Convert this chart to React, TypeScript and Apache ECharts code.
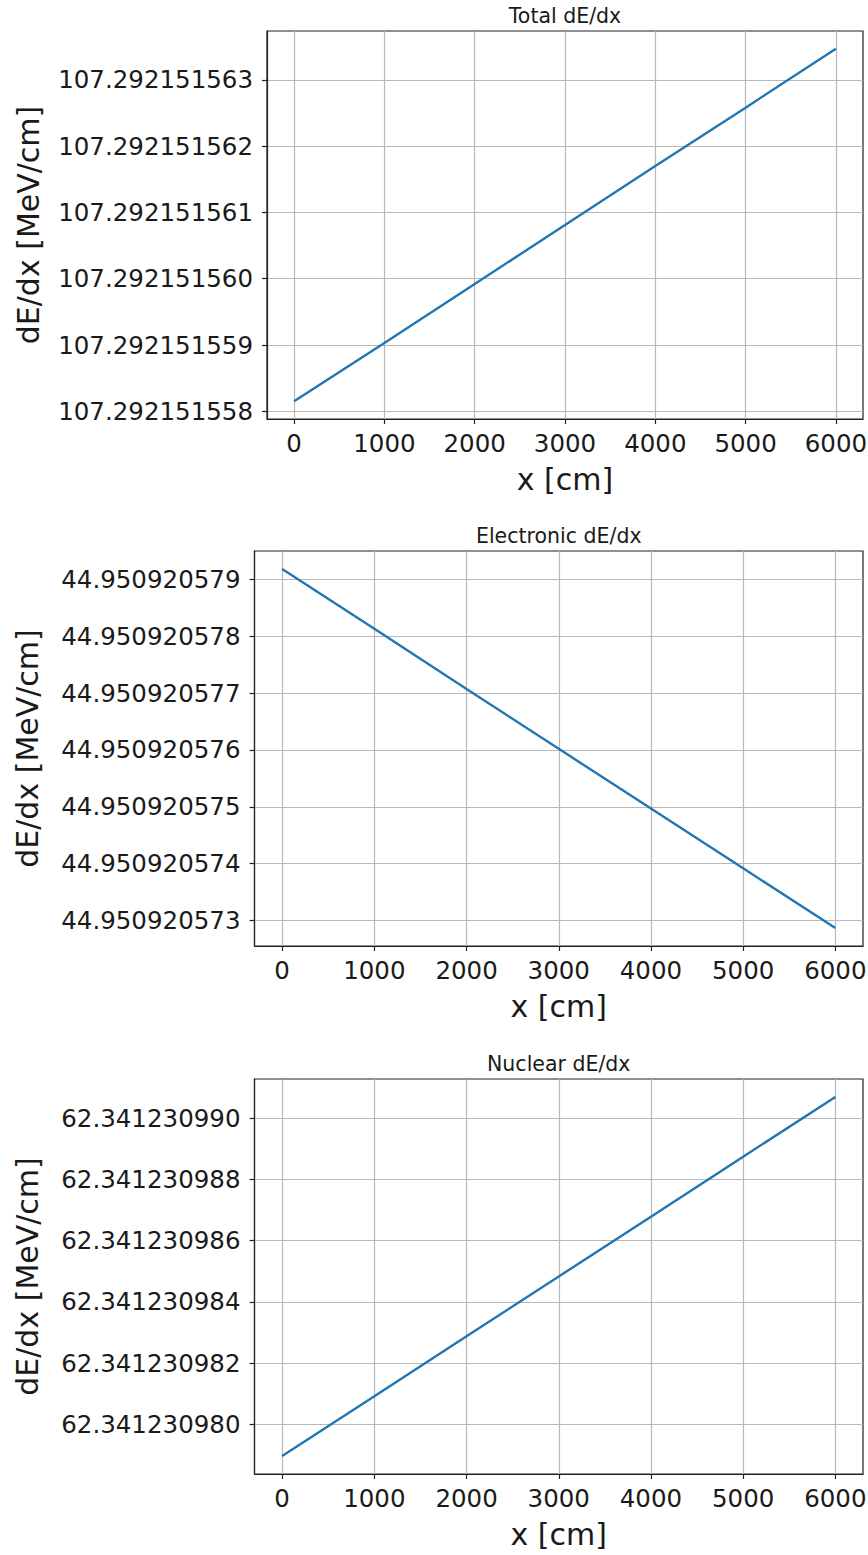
import React, { useEffect, useRef } from "react";
import * as echarts from "echarts";

// ---- data ----
const xValues = [0, 1000, 2000, 3000, 4000, 5000, 6000];
const xTicks = [0, 1000, 2000, 3000, 4000, 5000, 6000];

const totalValues = [
  107.29215155815, 107.29215155903, 107.29215155992, 107.29215156081,
  107.2921515617, 107.29215156258, 107.29215156347,
];
const electronicValues = [
  44.95092057918, 44.95092057813, 44.95092057707, 44.95092057602,
  44.95092057497, 44.95092057392, 44.95092057287,
];
const nuclearValues = [
  62.34123097897, 62.34123098092, 62.34123098288, 62.34123098483,
  62.34123098678, 62.34123098874, 62.34123099069,
];

const totalTicks = [
  107.292151558, 107.292151559, 107.29215156, 107.292151561, 107.292151562,
  107.292151563,
];
const electronicTicks = [
  44.950920573, 44.950920574, 44.950920575, 44.950920576, 44.950920577,
  44.950920578, 44.950920579,
];
const nuclearTicks = [
  62.34123098, 62.341230982, 62.341230984, 62.341230986, 62.341230988,
  62.34123099,
];
const tickSteps = [1e-9, 1e-9, 2e-9];

const titles = ["Total dE/dx", "Electronic dE/dx", "Nuclear dE/dx"];
const xLabel = "x [cm]";
const yLabel = "dE/dx [MeV/cm]";

// ---- layout / style (kept apart from data) ----
const layout = [
  { left: 267, top: 31, width: 596, height: 388, nameGap: 224 },
  { left: 254.5, top: 551, width: 608.5, height: 395, nameGap: 212 },
  { left: 254.5, top: 1079, width: 608.5, height: 395, nameGap: 212 },
];
const FONT = '"DejaVu Sans", Verdana, sans-serif';
const TEXT = "#1a1a1a";
const AXIS = "#222222";
const GRIDC = "#b8b8b8";
const LINE = "#1f77b4";

export default function App() {
  const ref = useRef<HTMLDivElement>(null);

  useEffect(() => {
    if (!ref.current) return;
    const chart = echarts.init(ref.current, undefined, { renderer: "svg" });

    const seriesValues = [totalValues, electronicValues, nuclearValues];
    const yTicks = [totalTicks, electronicTicks, nuclearTicks];

    const option: any = {
      animation: false,
      backgroundColor: "#ffffff",
      textStyle: { fontFamily: FONT },
      grid: layout.map((g) => ({
        left: g.left,
        top: g.top,
        width: g.width,
        height: g.height,
        show: true,
        borderColor: AXIS,
        borderWidth: 1.2,
        backgroundColor: "transparent",
        containLabel: false,
        outerBoundsMode: "none",
      })),
      xAxis: layout.map((g, i) => ({
        type: "value",
        gridIndex: i,
        min: -300,
        max: 6300,
        interval: 1000,
        name: xLabel,
        nameLocation: "middle",
        nameGap: 45,
        nameTextStyle: { fontSize: 30, fontFamily: FONT, color: TEXT },
        axisLine: { show: true, onZero: false, lineStyle: { color: AXIS, width: 1.2 } },
        axisTick: {
          show: true,
          inside: false,
          length: 5,
          customValues: xTicks,
          lineStyle: { color: AXIS, width: 1.2 },
        },
        axisLabel: {
          customValues: xTicks,
          fontSize: 24.5,
          fontFamily: FONT,
          color: TEXT,
          margin: 12,
          formatter: (v: number) => String(Math.round(Number(v))),
        },
        splitLine: { show: true, lineStyle: { color: GRIDC, width: 1.2 } },
      })),
      yAxis: layout.map((g, i) => ({
        type: "value",
        gridIndex: i,
        min: (e: any) => e.min - 0.05 * (e.max - e.min),
        max: (e: any) => e.max + 0.05 * (e.max - e.min),
        interval: tickSteps[i],
        name: yLabel,
        nameLocation: "middle",
        nameGap: g.nameGap,
        nameTextStyle: { fontSize: 30, fontFamily: FONT, color: TEXT },
        axisLine: { show: true, onZero: false, lineStyle: { color: AXIS, width: 1.2 } },
        axisTick: {
          show: true,
          inside: false,
          length: 5,
          customValues: yTicks[i],
          lineStyle: { color: AXIS, width: 1.2 },
        },
        axisLabel: {
          customValues: yTicks[i],
          fontSize: 24.5,
          fontFamily: FONT,
          color: TEXT,
          margin: 14,
          formatter: (v: number) => Number(v).toFixed(9),
        },
        splitLine: { show: true, lineStyle: { color: GRIDC, width: 1.2 } },
      })),
      series: seriesValues.map((vals, i) => ({
        type: "line",
        xAxisIndex: i,
        yAxisIndex: i,
        data: xValues.map((x, j) => [x, vals[j]]),
        showSymbol: false,
        symbol: "none",
        lineStyle: { color: LINE, width: 2.4 },
        z: 5,
      })),
      graphic: layout.map((g, i) => ({
        type: "text",
        x: g.left + g.width / 2,
        y: g.top - 15,
        silent: true,
        style: {
          text: titles[i],
          fill: TEXT,
          fontSize: 20.5,
          fontFamily: FONT,
          align: "center",
          verticalAlign: "middle",
        },
      })),
    };

    chart.setOption(option);
    return () => chart.dispose();
  }, []);

  return (
    <div
      ref={ref}
      style={{ position: "absolute", left: 0, top: 0, width: 868, height: 1555 }}
    />
  );
}
